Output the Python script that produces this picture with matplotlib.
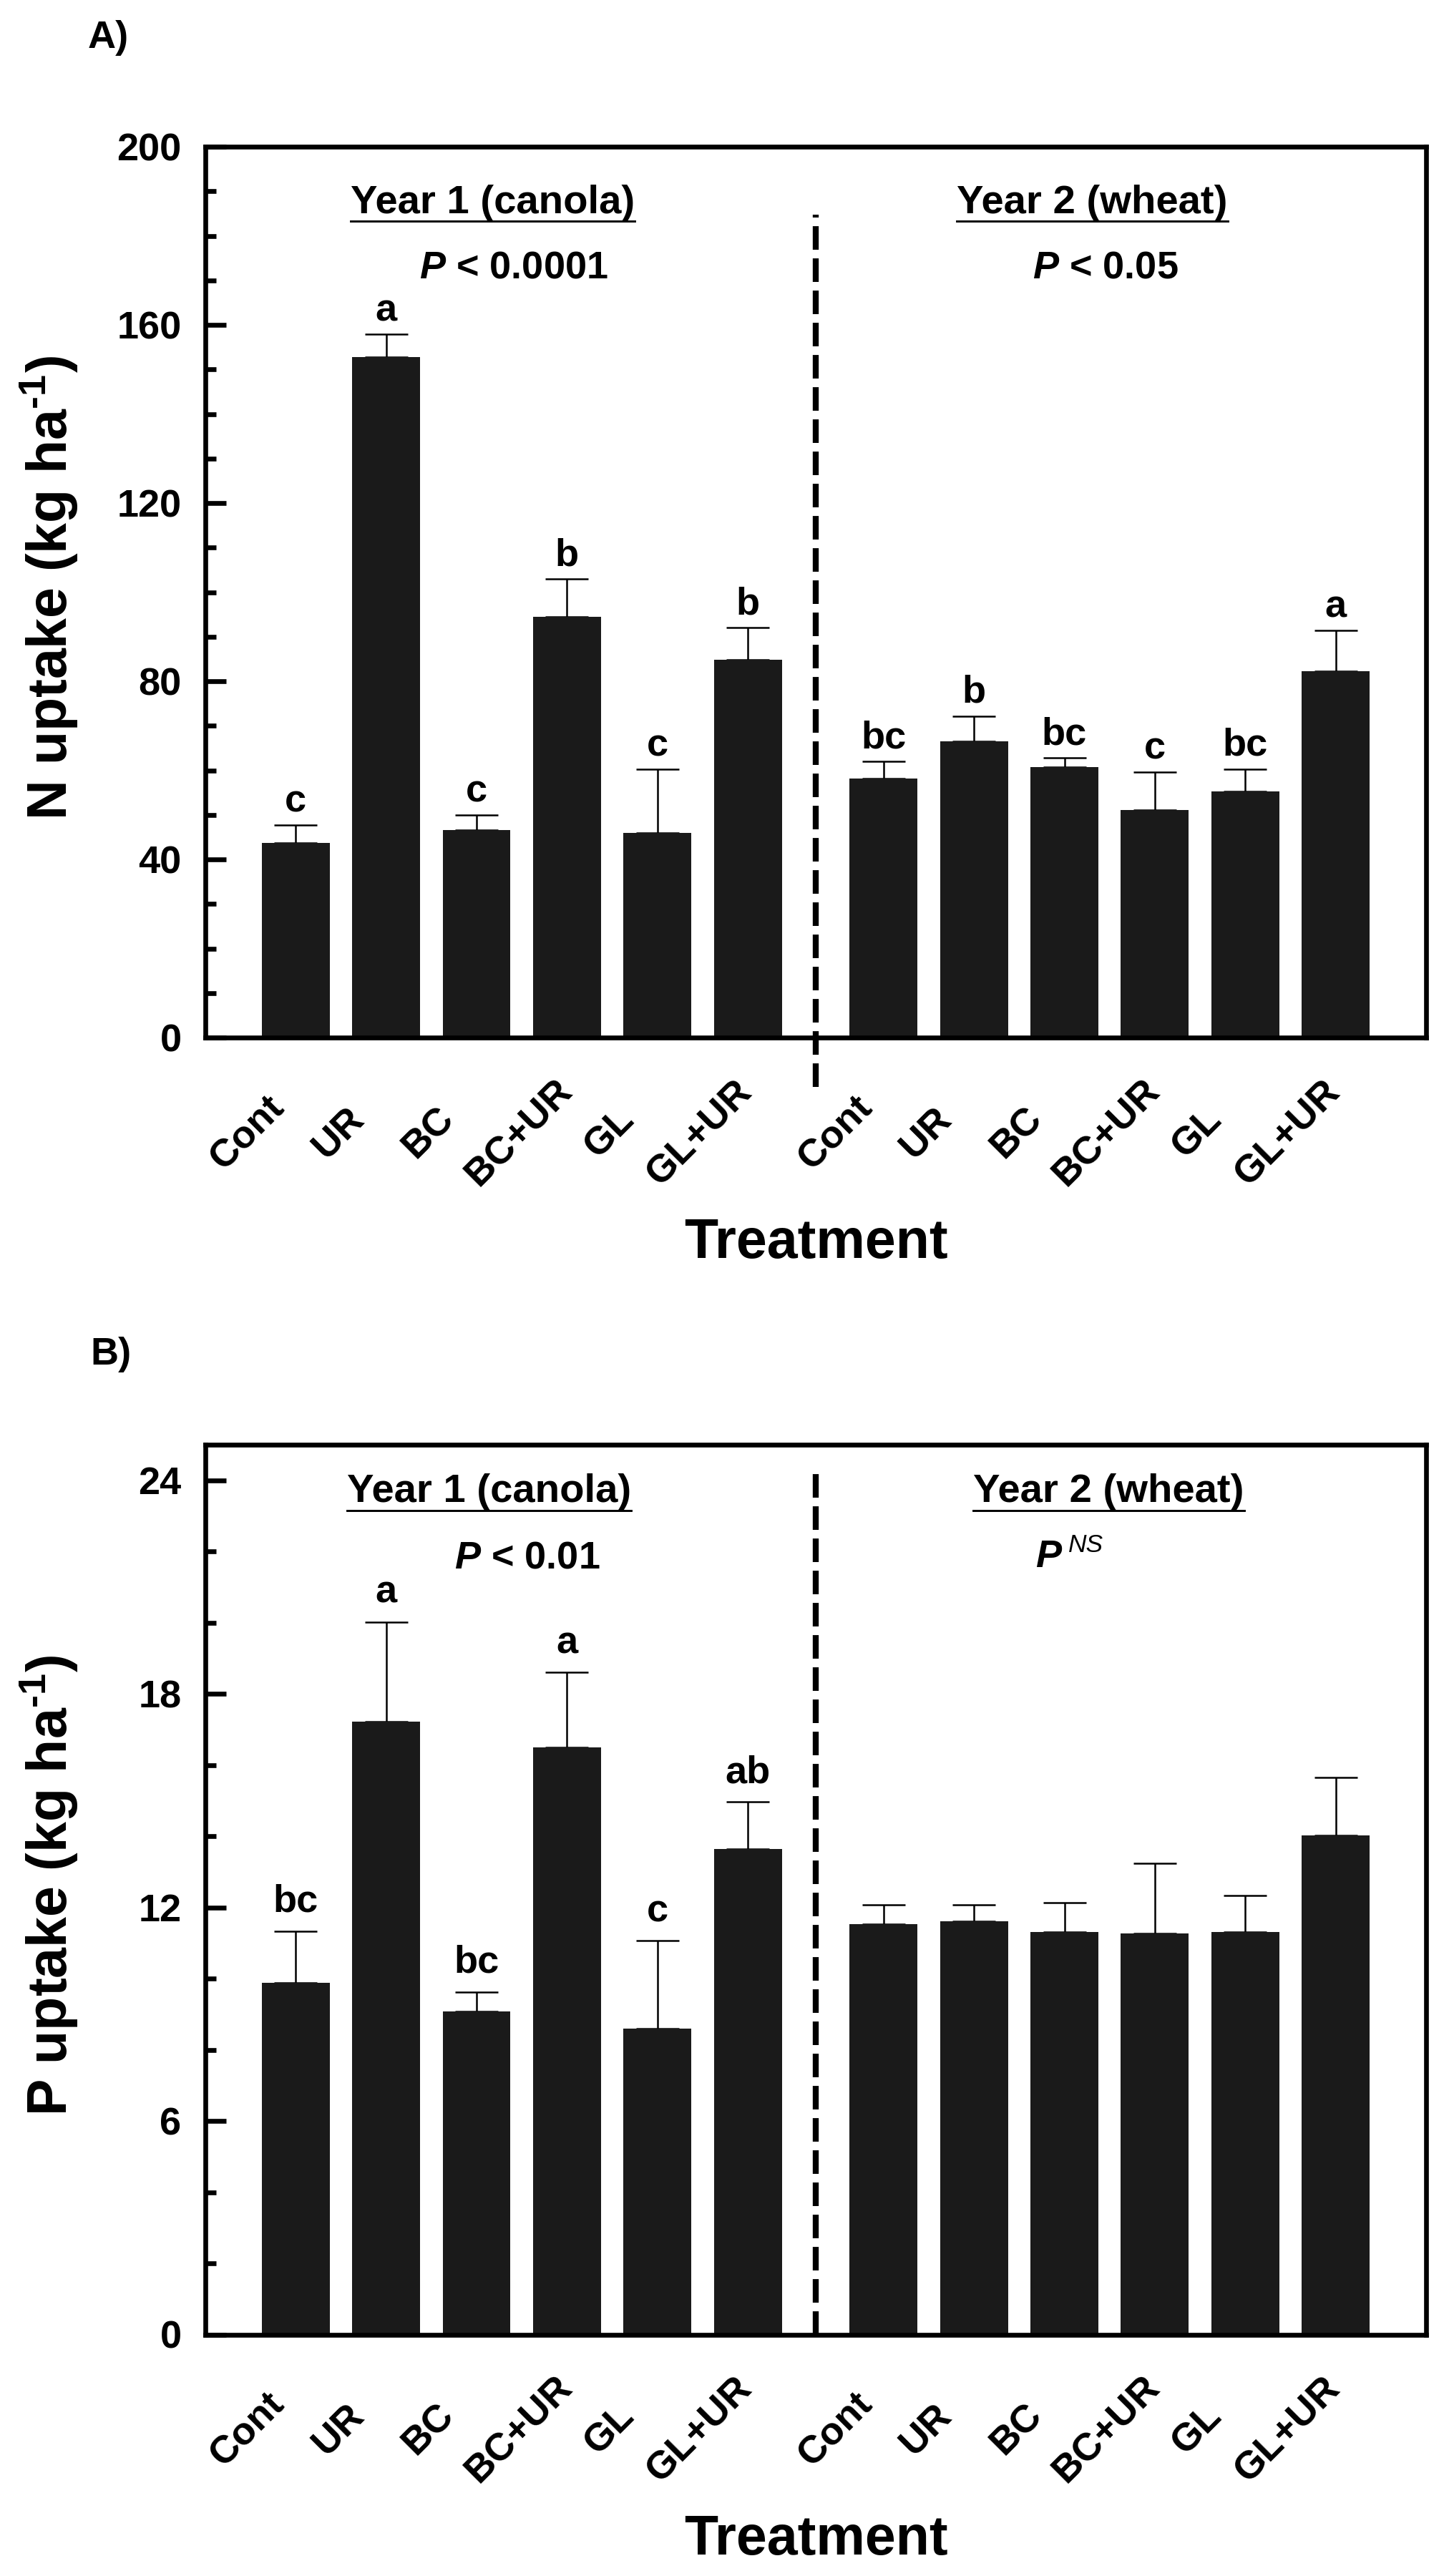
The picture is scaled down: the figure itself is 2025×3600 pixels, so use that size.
import matplotlib
matplotlib.use('Agg')
import matplotlib.pyplot as plt
import matplotlib.transforms as mtransforms
import numpy as np
from matplotlib.ticker import MultipleLocator

plt.rcParams['font.family'] = ['Liberation Sans', 'DejaVu Sans']
plt.rcParams['font.weight'] = 'bold'
plt.rcParams['axes.labelweight'] = 'bold'
plt.rcParams['mathtext.fontset'] = 'custom'
plt.rcParams['mathtext.rm'] = 'Liberation Sans:bold'
plt.rcParams['mathtext.it'] = 'Liberation Sans:italic:bold'
plt.rcParams['mathtext.bf'] = 'Liberation Sans:bold'
plt.rcParams['mathtext.sf'] = 'Liberation Sans:italic'

# data
treatments = ['Cont', 'UR', 'BC', 'BC+UR', 'GL', 'GL+UR']

n_year1 = [43.7, 152.8, 46.6, 94.5, 46.0, 84.8]
n_year1_se = [4.0, 5.1, 3.3, 8.5, 14.2, 7.2]
n_year1_letters = ['c', 'a', 'c', 'b', 'c', 'b']
n_year2 = [58.2, 66.6, 60.7, 51.1, 55.2, 82.2]
n_year2_se = [3.8, 5.6, 2.1, 8.5, 5.1, 9.2]
n_year2_letters = ['bc', 'b', 'bc', 'c', 'bc', 'a']

p_year1 = [9.88, 17.23, 9.07, 16.5, 8.60, 13.65]
p_year1_se = [1.45, 2.79, 0.56, 2.10, 2.46, 1.31]
p_year1_letters = ['bc', 'a', 'bc', 'a', 'c', 'ab']
p_year2 = [11.53, 11.61, 11.31, 11.27, 11.31, 14.02]
p_year2_se = [0.55, 0.46, 0.83, 1.96, 1.03, 1.63]
p_year2_letters = ['', '', '', '', '', '']

BAR = '#1a1a1a'

fig = plt.figure(figsize=(6.75, 12), dpi=300)
axA = fig.add_axes([0.1417, 0.5972, 0.8425, 0.3458])
axB = fig.add_axes([0.1417, 0.09375, 0.8425, 0.3454])

underlined = []


def panel(ax, y1, e1, l1, y2, e2, l2, ymax, major, minor, ylabel, dash_lo, dash_hi, letter_off):
    x1 = np.arange(len(treatments))
    x2 = x1 + 6.5
    xs = np.concatenate([x1, x2])
    vals = np.concatenate([y1, y2])
    errs = np.concatenate([e1, e2])
    ax.bar(xs, vals, width=0.75, color=BAR, zorder=2)
    ax.errorbar(xs, vals, yerr=[np.zeros(len(errs)), errs], fmt='none', ecolor='black',
                elinewidth=0.6, capsize=7.3, capthick=0.6, zorder=1)
    for x, v, e, lab in zip(xs, vals, errs, list(l1) + list(l2)):
        if lab:
            ax.annotate(lab, (x, v + e), xytext=(0, letter_off), textcoords='offset points',
                        ha='center', va='baseline', fontsize=13)

    ax.set_xlim(-1, 12.5)
    ax.set_ylim(0, ymax)
    ax.plot([5.75, 5.75], [dash_lo, dash_hi], color='black', lw=2, dashes=(3.95, 1.45),
            clip_on=False, zorder=3)

    for s in ax.spines.values():
        s.set_linewidth(1.6)
    ax.set_xticks([])
    ax.yaxis.set_major_locator(MultipleLocator(major))
    ax.yaxis.set_minor_locator(MultipleLocator(minor))
    ax.tick_params(axis='y', which='major', direction='in', length=7, width=1.6,
                   labelsize=13, pad=8)
    ax.tick_params(axis='y', which='minor', direction='in', length=3.5, width=1.6)

    trans = mtransforms.blended_transform_factory(ax.transData, ax.transAxes)
    for x, name in zip(xs, treatments + treatments):
        ax.text(x - 0.53, -0.1068, name, transform=trans, rotation=45,
                ha='center', va='center', fontsize=13)
    ax.text(0.5, -0.2474, 'Treatment', transform=ax.transAxes, ha='center',
            va='baseline', fontsize=18.5)
    ax.set_ylabel(ylabel, fontsize=18.5, fontweight='bold')
    ax.yaxis.set_label_coords(-0.1026, 0.505)


panel(axA, n_year1, n_year1_se, n_year1_letters, n_year2, n_year2_se, n_year2_letters,
      200, 40, 10, r'N uptake (kg ha$^{\text{-1}}$)', -11, 184.7, 4.5)
panel(axB, p_year1, p_year1_se, p_year1_letters, p_year2, p_year2_se, p_year2_letters,
      25, 6, 2, r'P uptake (kg ha$^{\text{-1}}$)', 0, 24.36, 6.5)

# group headings
t = axA.text(2.18, 185.1, 'Year 1 (canola)', ha='center', va='baseline', fontsize=13.5)
underlined.append((axA, t, 11))
t = axA.text(8.81, 185.1, 'Year 2 (wheat)', ha='center', va='baseline', fontsize=13.5)
underlined.append((axA, t, 11))
axA.text(2.41, 170.5, r'$\mathit{P}$ < 0.0001', ha='center', va='baseline', fontsize=13)
axA.text(8.955, 170.5, r'$\mathit{P}$ < 0.05', ha='center', va='baseline', fontsize=13)

t = axB.text(2.14, 23.39, 'Year 1 (canola)', ha='center', va='baseline', fontsize=13.5)
underlined.append((axB, t, 12))
t = axB.text(8.99, 23.39, 'Year 2 (wheat)', ha='center', va='baseline', fontsize=13.5)
underlined.append((axB, t, 12))
axB.text(2.56, 21.54, r'$\mathit{P}$ < 0.01', ha='center', va='baseline', fontsize=13)
axB.text(8.18, 21.57, 'P', ha='left', va='baseline', fontsize=13, fontstyle='italic')
axB.text(8.54, 21.98, 'NS', ha='left', va='baseline', fontsize=8.5, fontstyle='italic',
         fontweight='normal')

fig.text(0.0605, 0.9814, 'A)', fontsize=13, va='baseline')
fig.text(0.0625, 0.4703, 'B)', fontsize=13, va='baseline')

# underline the year headings
fig.canvas.draw()
r = fig.canvas.get_renderer()
for ax, t, gap in underlined:
    bb = t.get_window_extent(r)
    yb = ax.transData.transform(t.get_position())[1] - gap
    inv = ax.transAxes.inverted()
    p0 = inv.transform((bb.x0, yb))
    p1 = inv.transform((bb.x1, yb))
    ax.plot([p0[0], p1[0]], [p0[1], p1[1]], transform=ax.transAxes, color='black',
            lw=0.7, clip_on=False)

fig.savefig('out.png', dpi=300)
